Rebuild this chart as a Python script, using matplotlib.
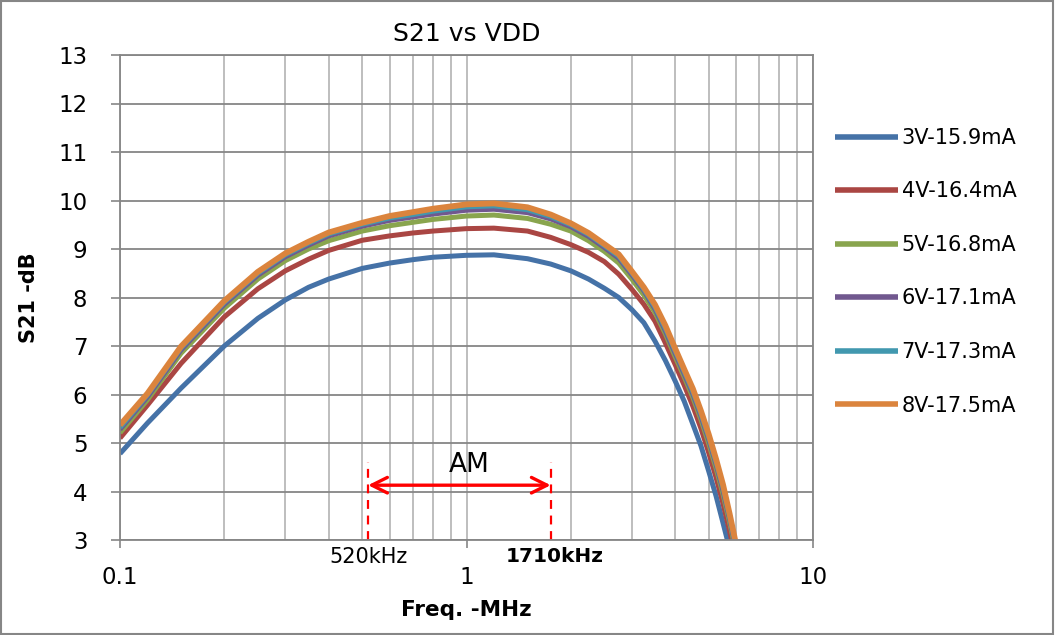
import numpy as np
import matplotlib
matplotlib.use("Agg")
import matplotlib.pyplot as plt
from matplotlib.patches import Rectangle

plt.rcParams['font.family'] = ['DejaVu Sans']

#%% Data
freq = [0.1, 0.12, 0.15, 0.2, 0.25, 0.3, 0.35, 0.4, 0.5, 0.6, 0.7, 0.8,
        1.0, 1.2, 1.5, 1.75, 2.0, 2.25, 2.5, 2.75, 3.0, 3.25, 3.5, 3.75,
        4.0, 4.25, 4.5, 4.75, 5.0, 5.25, 5.5, 5.75, 6.0]  # MHz

s21_3v = [4.78, 5.41, 6.13, 7.00, 7.57, 7.95, 8.21, 8.38, 8.60, 8.71, 8.78, 8.83,
          8.87, 8.88, 8.80, 8.69, 8.55, 8.38, 8.19, 8.00, 7.75, 7.48, 7.10, 6.70,
          6.28, 5.86, 5.39, 4.94, 4.42, 3.91, 3.35, 2.81, 2.30]
s21_4v = [5.10, 5.78, 6.64, 7.60, 8.18, 8.55, 8.79, 8.97, 9.18, 9.27, 9.33, 9.37,
          9.42, 9.43, 9.37, 9.24, 9.09, 8.93, 8.74, 8.48, 8.17, 7.86, 7.51, 7.06,
          6.62, 6.19, 5.76, 5.30, 4.80, 4.29, 3.75, 3.17, 2.60]
s21_5v = [5.21, 5.89, 6.85, 7.78, 8.38, 8.76, 9.00, 9.17, 9.37, 9.48, 9.55, 9.61,
          9.68, 9.70, 9.63, 9.51, 9.37, 9.17, 8.95, 8.71, 8.38, 8.05, 7.69, 7.25,
          6.78, 6.36, 5.94, 5.48, 4.99, 4.48, 3.94, 3.35, 2.75]
s21_6v = [5.28, 5.95, 6.92, 7.86, 8.46, 8.84, 9.08, 9.27, 9.47, 9.59, 9.66, 9.72,
          9.80, 9.82, 9.75, 9.62, 9.46, 9.26, 9.03, 8.81, 8.47, 8.14, 7.76, 7.31,
          6.85, 6.42, 6.01, 5.55, 5.07, 4.56, 4.02, 3.42, 2.81]
s21_7v = [5.32, 5.99, 6.96, 7.90, 8.50, 8.88, 9.12, 9.31, 9.51, 9.64, 9.71, 9.78,
          9.87, 9.89, 9.81, 9.67, 9.50, 9.30, 9.07, 8.85, 8.51, 8.17, 7.80, 7.36,
          6.90, 6.47, 6.06, 5.60, 5.12, 4.61, 4.08, 3.47, 2.85]
s21_8v = [5.37, 6.02, 6.99, 7.93, 8.53, 8.91, 9.15, 9.34, 9.54, 9.68, 9.76, 9.83,
          9.92, 9.94, 9.86, 9.71, 9.53, 9.33, 9.10, 8.89, 8.54, 8.21, 7.85, 7.42,
          6.95, 6.52, 6.12, 5.66, 5.18, 4.67, 4.14, 3.53, 2.90]

labels = ['3V-15.9mA', '4V-16.4mA', '5V-16.8mA', '6V-17.1mA', '7V-17.3mA', '8V-17.5mA']
series = [s21_3v, s21_4v, s21_5v, s21_6v, s21_7v, s21_8v]
colors = ['#4572A7', '#AA4643', '#89A54E', '#71588F', '#4198AF', '#DB843D']

am_lo, am_hi = 0.52, 1.75   # MHz, dashed markers
am_top = 4.6
am_arrow_y = 4.13

xticks = [0.1, 1, 10]
xtick_labels = ['0.1', '1', '10']
yticks = list(range(3, 14))

#%% Plot
fig = plt.figure(figsize=(10.55, 6.35), dpi=100)
ax = fig.add_axes([120/1055, 1 - 540/635, (813 - 120)/1055, (540 - 55)/635])

for vals, lab, col in zip(series, labels, colors):
    lw = 4.2 if lab.startswith('8V') else 3.6
    ax.plot(freq, vals, color=col, lw=lw, label=lab,
            solid_capstyle='butt', solid_joinstyle='round')

ax.set_xscale('log')
ax.set_xlim(0.1, 10)
ax.set_ylim(3, 13)

ax.set_xticks(xticks)
ax.set_xticklabels(xtick_labels)
ax.xaxis.set_minor_locator(matplotlib.ticker.LogLocator(base=10, subs=np.arange(2, 10)))
ax.xaxis.set_minor_formatter(matplotlib.ticker.NullFormatter())
ax.set_yticks(yticks)

grey = '#868686'
ax.grid(True, which='major', axis='y', color=grey, lw=1.3)
ax.grid(True, which='both', axis='x', color='#b3b3b3', lw=1.2)
ax.set_axisbelow(True)
for sp in ax.spines.values():
    sp.set_color(grey)
    sp.set_linewidth(1.3)

ax.tick_params(axis='x', which='major', direction='out', length=5.5, width=1.2,
               color=grey, labelsize=16.5, pad=13)
ax.tick_params(axis='x', which='minor', length=0)
ax.tick_params(axis='y', direction='out', length=6.5, width=1.2,
               color=grey, labelsize=16.5, pad=17)

ax.set_title('S21 vs VDD', fontsize=18, pad=10)
ax.set_xlabel('Freq. -MHz', fontsize=15.5, fontweight='bold', labelpad=8)
ax.set_ylabel('S21 -dB', fontsize=15, fontweight='bold', labelpad=14)

# AM band markers
for f in [am_lo, am_hi]:
    ax.plot([f, f], [3, am_top], color='red', lw=1.6, ls=(0, (4, 3)))
ax.annotate('', xy=(am_hi, am_arrow_y), xytext=(am_lo, am_arrow_y),
            arrowprops=dict(arrowstyle='<->', color='red', lw=2.4,
                            mutation_scale=28, shrinkA=0, shrinkB=0))
ax.text(1.02, 4.55, 'AM', fontsize=19, ha='center', va='center')
ax.text(am_lo, 2.65, '520kHz', fontsize=15, ha='center', va='center', clip_on=False)
ax.text(1.80, 2.65, '1710kHz', fontsize=14.5, fontweight='bold',
        ha='center', va='center', clip_on=False)

leg = fig.legend(loc='center left', bbox_to_anchor=(835/1055, 1 - 271.7/635),
                 frameon=False, fontsize=15, handlelength=3.0, handletextpad=0.2,
                 labelspacing=1.61, borderpad=0, borderaxespad=0)
for line in leg.get_lines():
    line.set_linewidth(4)

fig.patches.append(Rectangle((0.001, 0.002), 0.997, 0.996, transform=fig.transFigure,
                             fill=False, edgecolor=grey, lw=1.5))

fig.savefig('out.png', dpi=100)
